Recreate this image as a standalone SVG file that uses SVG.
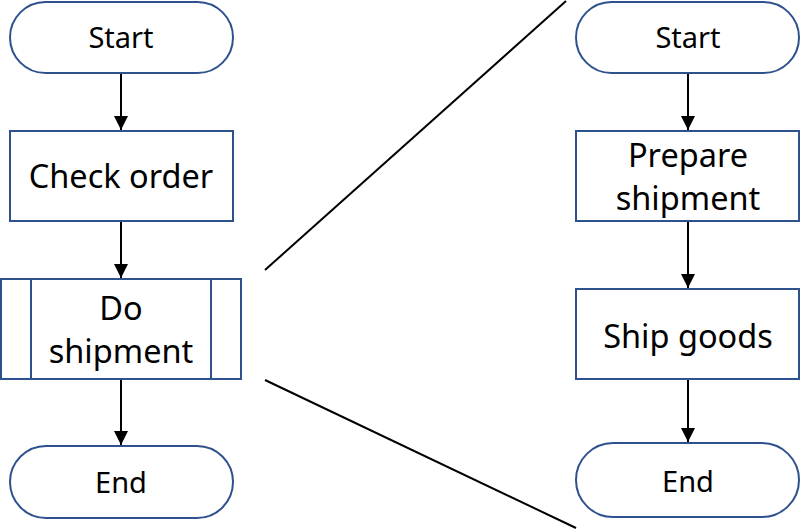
<svg xmlns="http://www.w3.org/2000/svg" width="800" height="529" viewBox="0 0 800 529">
<style>
.shape{fill:#ffffff;stroke:#2F528F;stroke-width:2}
.lbl{font-family:"Noto Sans","Liberation Sans",sans-serif;fill:#000000;text-anchor:middle}
.sm{font-size:29px}
.lg{font-size:32.5px}
.conn{stroke:#000000;stroke-width:2;fill:none}
.arrow{marker-end:url(#ah)}
</style>
<defs>
<marker id="ah" markerUnits="userSpaceOnUse" markerWidth="14" markerHeight="14" viewBox="0 0 12 12" refX="12" refY="6" orient="auto">
<path d="M0,0 L12,6 L0,12 Z" fill="#000000"/>
</marker>
</defs>
<rect width="800" height="529" fill="#ffffff"/>
<g id="connectors">
<line class="conn arrow" x1="121" y1="73" x2="121" y2="130"/>
<line class="conn arrow" x1="121" y1="221" x2="121" y2="278"/>
<line class="conn arrow" x1="121" y1="379" x2="121" y2="445"/>
<line class="conn arrow" x1="688" y1="73" x2="688" y2="130"/>
<line class="conn arrow" x1="688" y1="221" x2="688" y2="288"/>
<line class="conn arrow" x1="688" y1="379" x2="688" y2="442"/>
<line class="conn" x1="265" y1="270" x2="566" y2="1"/>
<line class="conn" x1="265" y1="380" x2="576" y2="528"/>
</g>
<g id="start-left">
<rect class="shape" x="10" y="2" width="223" height="71" rx="35.5" ry="35.5"/>
<text class="lbl sm" x="121" y="48">Start</text>
</g>
<g id="check-order">
<rect class="shape" x="10" y="131" width="223" height="90"/>
<text class="lbl lg" x="121" y="188">Check order</text>
</g>
<g id="do-shipment">
<rect class="shape" x="1" y="279" width="240" height="100"/>
<line class="shape" x1="31" y1="279" x2="31" y2="379"/>
<line class="shape" x1="211" y1="279" x2="211" y2="379"/>
<text class="lbl lg" x="121" y="320">Do</text>
<text class="lbl lg" x="121" y="363">shipment</text>
</g>
<g id="end-left">
<rect class="shape" x="10" y="446" width="223" height="72" rx="36" ry="36"/>
<text class="lbl sm" x="121" y="493">End</text>
</g>
<g id="start-right">
<rect class="shape" x="576" y="2" width="223" height="71" rx="35.5" ry="35.5"/>
<text class="lbl sm" x="688" y="48">Start</text>
</g>
<g id="prepare-shipment">
<rect class="shape" x="576" y="131" width="223" height="90"/>
<text class="lbl lg" x="688" y="167">Prepare</text>
<text class="lbl lg" x="688" y="210">shipment</text>
</g>
<g id="ship-goods">
<rect class="shape" x="576" y="289" width="223" height="90"/>
<text class="lbl lg" x="688" y="348">Ship goods</text>
</g>
<g id="end-right">
<rect class="shape" x="576" y="443" width="223" height="74" rx="37" ry="37"/>
<text class="lbl sm" x="688" y="492">End</text>
</g>
</svg>
